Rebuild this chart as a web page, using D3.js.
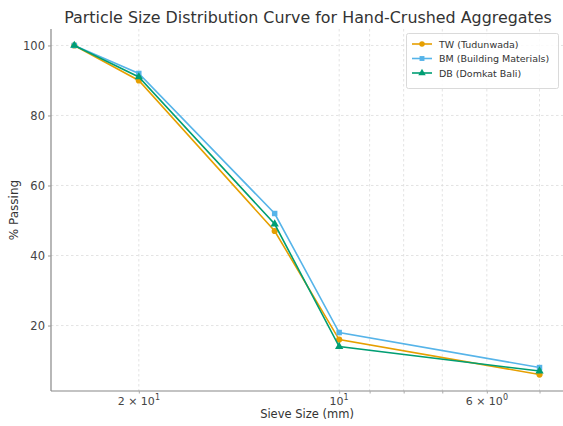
<!DOCTYPE html>
<html><head><meta charset="utf-8">
<script src="https://cdn.jsdelivr.net/npm/d3@7"></script>
<style>body{margin:0;background:#fff}svg{display:block}text{font-family:"DejaVu Sans",sans-serif}</style>
</head><body><svg id="c" width="563" height="426"></svg>
<script>
const sieveSizes = [25, 20, 12.5, 10, 5];
const tw = [100, 90, 47, 16, 6];
const bm = [100, 92, 52, 18, 8];
const db = [100, 91, 49, 14, 7];
const seriesNames = ["TW (Tudunwada)", "BM (Building Materials)", "DB (Domkat Bali)"];
const yTicks = [20, 40, 60, 80, 100];
const xGrid = [20, 10, 9, 8, 7, 6, 5];
const xTickLabels = [{v:20, b:"2", e:"1"}, {v:10, b:null, e:"1"}, {v:6, b:"6", e:"0"}];

const svg = d3.select("#c");
const L = 51, R = 563, T = 29, B = 391;
const x = d3.scaleLog().domain([27.1, 4.61]).range([L, R]);
const y = d3.scaleLinear().domain([1.3, 104.7]).range([B, T]);

// grid
svg.append("g").selectAll("line").data(xGrid).join("line")
  .attr("x1", d => x(d)).attr("x2", d => x(d)).attr("y1", T).attr("y2", B)
  .attr("stroke", "#dcdcdc").attr("stroke-width", 0.8).attr("stroke-dasharray", "2.5,2.5");
svg.append("g").selectAll("line").data(yTicks).join("line")
  .attr("x1", L).attr("x2", R).attr("y1", d => y(d)).attr("y2", d => y(d))
  .attr("stroke", "#dcdcdc").attr("stroke-width", 0.8).attr("stroke-dasharray", "2.5,2.5");

// axes
const yAxis = d3.axisLeft(y).tickValues(yTicks).tickSize(3).tickPadding(3);
const gy = svg.append("g").attr("transform", `translate(${L},0)`).call(yAxis);
gy.select(".domain").attr("stroke", "#888").attr("stroke-width", 1.2).attr("d", `M0,${T}V${B}`);
gy.selectAll(".tick line").attr("stroke", "#999");
gy.selectAll(".tick text").attr("fill", "#444").attr("font-size", 11.5).attr("font-family", "DejaVu Sans");

const xAxis = d3.axisBottom(x).tickValues(xGrid).tickSize(2.5).tickFormat("");
const gx = svg.append("g").attr("transform", `translate(0,${B})`).call(xAxis);
gx.select(".domain").attr("stroke", "#888").attr("stroke-width", 1.2).attr("d", `M${L},0H${R}`);
gx.selectAll(".tick line").attr("stroke", "#aaa");

const lbl = svg.append("g").attr("fill", "#444").attr("font-size", 11);
xTickLabels.forEach(t => {
  const tx = lbl.append("text").attr("x", x(t.v)).attr("y", B + 13.5).attr("text-anchor", "middle");
  if (t.b) tx.append("tspan").text(t.b + " \u00d7 10");
  else tx.append("tspan").text("10");
  tx.append("tspan").attr("dy", -5).attr("font-size", 8).text(t.e);
});

// title and labels
svg.append("text").attr("x", (L + R) / 2 + 1).attr("y", 23).attr("text-anchor", "middle")
  .attr("font-size", 15.9).attr("fill", "#333").text("Particle Size Distribution Curve for Hand-Crushed Aggregates");
svg.append("text").attr("x", (L + R) / 2).attr("y", 418).attr("text-anchor", "middle")
  .attr("font-size", 11.5).attr("fill", "#333").text("Sieve Size (mm)");
svg.append("text").attr("transform", `translate(18,${(T + B) / 2}) rotate(-90)`).attr("text-anchor", "middle")
  .attr("font-size", 12).attr("fill", "#333").text("% Passing");

// series
const colors = ["#E69F00", "#56B4E9", "#009E73"];
const shapes = [d3.symbolCircle, d3.symbolSquare, d3.symbolTriangle];
const all = [tw, bm, db];
const line = d3.line().x((d, i) => x(sieveSizes[i])).y(d => y(d));
all.forEach((vals, k) => {
  const g = svg.append("g");
  g.append("path").datum(vals).attr("d", line).attr("fill", "none")
    .attr("stroke", colors[k]).attr("stroke-width", 1.6);
  g.selectAll("path.m").data(vals).join("path").attr("class", "m")
    .attr("transform", (d, i) => `translate(${x(sieveSizes[i])},${y(d)})`)
    .attr("d", d3.symbol().type(shapes[k]).size(30)).attr("fill", colors[k]);
});

// legend
const lg = svg.append("g");
lg.append("rect").attr("x", 406.5).attr("y", 33.5).attr("width", 152).attr("height", 55).attr("rx", 2)
  .attr("fill", "#fff").attr("fill-opacity", 0.85).attr("stroke", "#d0d0d0").attr("stroke-width", 0.8);
seriesNames.forEach((n, k) => {
  const yy = 44 + k * 14.5;
  lg.append("line").attr("x1", 412).attr("x2", 432).attr("y1", yy).attr("y2", yy)
    .attr("stroke", colors[k]).attr("stroke-width", 1.6);
  lg.append("path").attr("transform", `translate(422,${yy})`)
    .attr("d", d3.symbol().type(shapes[k]).size(24)).attr("fill", colors[k]);
  lg.append("text").attr("x", 439).attr("y", yy + 3.5).attr("font-size", 9.5).attr("fill", "#333").text(n);
});
</script></body></html>
